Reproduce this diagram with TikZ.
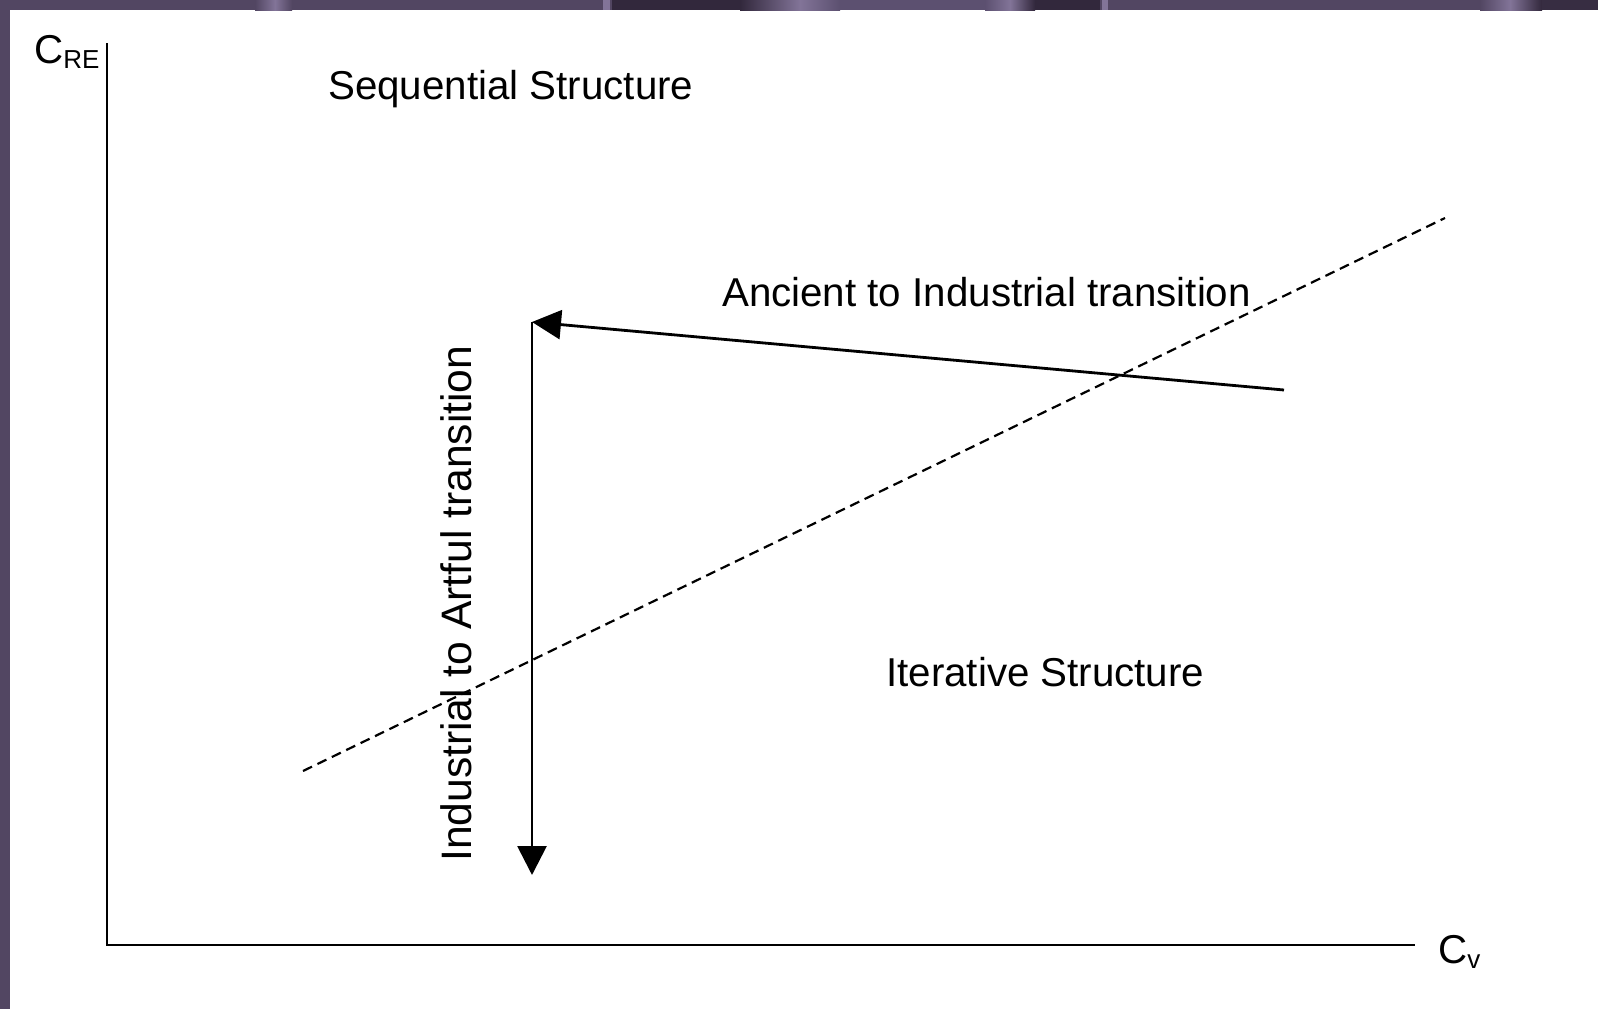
\documentclass[tikz,border=0pt]{standalone}
\usepackage{fontspec}
\setmainfont{Liberation Sans}
\usetikzlibrary{arrows.meta}
\definecolor{frame}{RGB}{82,70,98}
\definecolor{framemid}{RGB}{92,80,112}
\definecolor{framedark}{RGB}{50,40,60}
\definecolor{framelight}{RGB}{130,116,152}
\newcommand{\subsz}{\fontsize{26}{26}\selectfont}
\begin{document}
\begin{tikzpicture}[x=1pt,y=-1pt,
  lbl/.style={font=\fontsize{40.3}{48}\selectfont, inner sep=0pt, anchor=base west},
  axis/.style={line width=2.4pt},
  trans/.style={line width=2.8pt, -{Triangle[length=29pt,width=29pt]}},
  boundary/.style={line width=2.2pt, dash pattern=on 10pt off 6pt}]
\useasboundingbox (0,0) rectangle (1598,1009);
% page and frame bands
\fill[white] (0,0) rectangle (1598,1009);
\fill[frame] (0,0) rectangle (1598,10);
\fill[frame] (0,0) rectangle (10,1009);
\shade[left color=frame, right color=framelight] (255,0) rectangle (275,10);
\shade[left color=framelight, right color=frame] (275,0) rectangle (292,10);
\fill[framelight] (603,0) rectangle (610,10);
\fill[framedark] (612,0) rectangle (740,10);
\shade[left color=framedark, right color=framelight] (740,0) rectangle (800,10);
\shade[left color=framelight, right color=framemid] (800,0) rectangle (840,10);
\fill[framemid] (840,0) rectangle (985,10);
\shade[left color=framemid, right color=framelight] (985,0) rectangle (1010,10);
\shade[left color=framelight, right color=framedark] (1010,0) rectangle (1035,10);
\fill[framedark] (1035,0) rectangle (1100,10);
\fill[framelight] (1102,0) rectangle (1108,10);
\shade[left color=frame, right color=framelight] (1480,0) rectangle (1510,10);
\shade[left color=framelight, right color=framedark] (1510,0) rectangle (1542,10);
\fill[framedark!85!frame] (1542,0) rectangle (1598,10);

% axes
\coordinate (orig) at (107,945);
\coordinate (ytop) at (107,43);
\coordinate (xend) at (1415,945);
\draw[axis] (ytop) -- (orig) -- (xend);
\node[lbl] (cre) at (34,63) {C\raisebox{-5pt}{\subsz RE}};
\node[lbl] (cv) at (1438,963) {C\raisebox{-5pt}{\subsz v}};

% region labels
\node[lbl] (seq) at (328,99) {Sequential Structure};
\node[lbl] (itr) at (886,686) {Iterative Structure};

% boundary between the regions
\coordinate (bndA) at (303,771);
\coordinate (bndB) at (1445,218);
\draw[boundary] (bndA) -- (bndB);

% transitions
\coordinate (ancStart) at (1284,390);
\coordinate (corner) at (532,322);
\coordinate (artEnd) at (532,875);
\draw[trans] (ancStart) -- (corner);
\draw[trans] (corner) -- (artEnd);
\node[lbl] (anc) at (722,306) {Ancient to Industrial transition};
\node[lbl, rotate=90, font=\fontsize{42.6}{50}\selectfont] (art) at (471,862) {Industrial to Artful transition};
\end{tikzpicture}
\end{document}
